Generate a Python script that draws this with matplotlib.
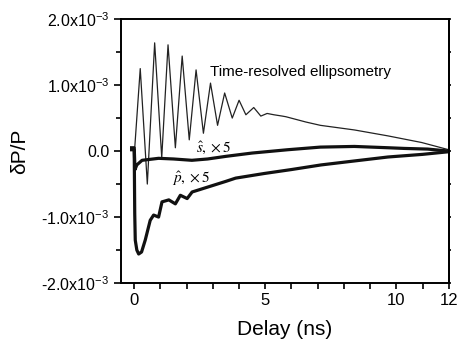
import matplotlib
matplotlib.use('Agg')
import matplotlib.pyplot as plt
from matplotlib.ticker import MultipleLocator, FixedLocator, FuncFormatter

plt.rcParams['font.family'] = ['Liberation Sans', 'DejaVu Sans']
plt.rcParams['mathtext.fontset'] = 'custom'
plt.rcParams['mathtext.rm'] = 'Liberation Sans'
plt.rcParams['mathtext.it'] = 'Liberation Sans:italic'

# values in units of 1e-3, delay in ns
ell_t = [-0.1, 0.02, 0.23, 0.5, 0.78, 1.05, 1.29, 1.57, 1.83, 2.1, 2.36, 2.64, 2.91,
         3.18, 3.45, 3.74, 4.0, 4.26, 4.56, 4.83, 5.07, 5.33, 5.65, 5.79, 6.55,
         7.1, 8.4, 9.68, 10.96, 12.0]
ell_v = [0.04, 0.05, 1.25, -0.5, 1.64, -0.1, 1.61, 0.05, 1.44, 0.17, 1.23, 0.27, 1.03,
         0.39, 0.88, 0.5, 0.77, 0.55, 0.66, 0.53, 0.57, 0.55, 0.53, 0.52, 0.44,
         0.39, 0.32, 0.23, 0.13, 0.02]

s_t = [-0.1, 0.0, 0.03, 0.1, 0.3, 0.93, 1.5, 2.2, 2.8, 3.5, 4.5, 5.85, 7.1, 8.4,
       9.7, 10.3, 11.2, 12.0]
s_v = [0.05, 0.05, -0.28, -0.21, -0.14, -0.11, -0.12, -0.14, -0.12, -0.08, -0.03,
       0.02, 0.06, 0.07, 0.05, 0.04, 0.03, 0.0]

p_t = [-0.1, 0.0, 0.02, 0.04, 0.1, 0.17, 0.28, 0.42, 0.61, 0.74, 0.93, 1.06, 1.32,
       1.57, 1.76, 2.02, 2.21, 2.85, 3.49, 3.87, 4.96, 6.0, 7.13, 8.4, 9.68, 11.0, 12.0]
p_v = [0.02, 0.02, -0.95, -1.35, -1.5, -1.56, -1.53, -1.35, -1.05, -0.97, -1.0, -0.77,
       -0.74, -0.8, -0.67, -0.72, -0.62, -0.54, -0.46, -0.41, -0.34, -0.28, -0.21,
       -0.15, -0.09, -0.05, -0.01]

x_ticks = [0, 5, 10, 12]


def ylab(v, pos):
    if abs(v) < 1e-9:
        return '0.0'
    return '%.1fx10$^{-3}$' % v


fig = plt.figure(figsize=(4.57, 3.41), dpi=100)
ax = fig.add_axes([0.265, 0.170, 0.717, 0.774])

ax.plot(ell_t, ell_v, color='#222222', lw=0.9)
ax.plot(s_t, s_v, color='#111111', lw=2.3)
ax.plot(p_t, p_v, color='#111111', lw=2.3)

ax.text(2.9, 1.2, 'Time-resolved ellipsometry', fontsize=11, va='center')
ax.text(2.34, -0.02, r'$\hat{s}, \times 5$', fontsize=11, math_fontfamily='stix')
ax.text(1.44, -0.48, r'$\hat{p}, \times 5$', fontsize=11, math_fontfamily='stix')

ax.set_xlim(-0.5, 12)
ax.set_ylim(-2, 2)
ax.xaxis.set_major_locator(FixedLocator(x_ticks))
ax.xaxis.set_minor_locator(MultipleLocator(1))
ax.yaxis.set_major_locator(MultipleLocator(1))
ax.yaxis.set_minor_locator(MultipleLocator(0.5))
ax.yaxis.set_major_formatter(FuncFormatter(ylab))

ax.tick_params(axis='x', which='both', direction='out', length=4, width=1.2,
               labelsize=12)
ax.tick_params(axis='y', which='major', direction='out', length=5, width=1.2,
               labelsize=11.5)
ax.tick_params(axis='y', which='minor', direction='out', length=3.5, width=1.2)
# small marks on the right spine
ax2 = ax.secondary_yaxis('right')
ax2.yaxis.set_major_locator(MultipleLocator(0.5))
ax2.tick_params(direction='out', length=1.5, width=1.2, labelright=False)
for sp in ax.spines.values():
    sp.set_linewidth(1.4)
ax2.spines['right'].set_linewidth(1.4)

ax.set_xlabel('Delay (ns)', fontsize=15, labelpad=8)
ax.set_ylabel('δP/P', fontsize=15, labelpad=9)

fig.savefig('out.png', dpi=100)
